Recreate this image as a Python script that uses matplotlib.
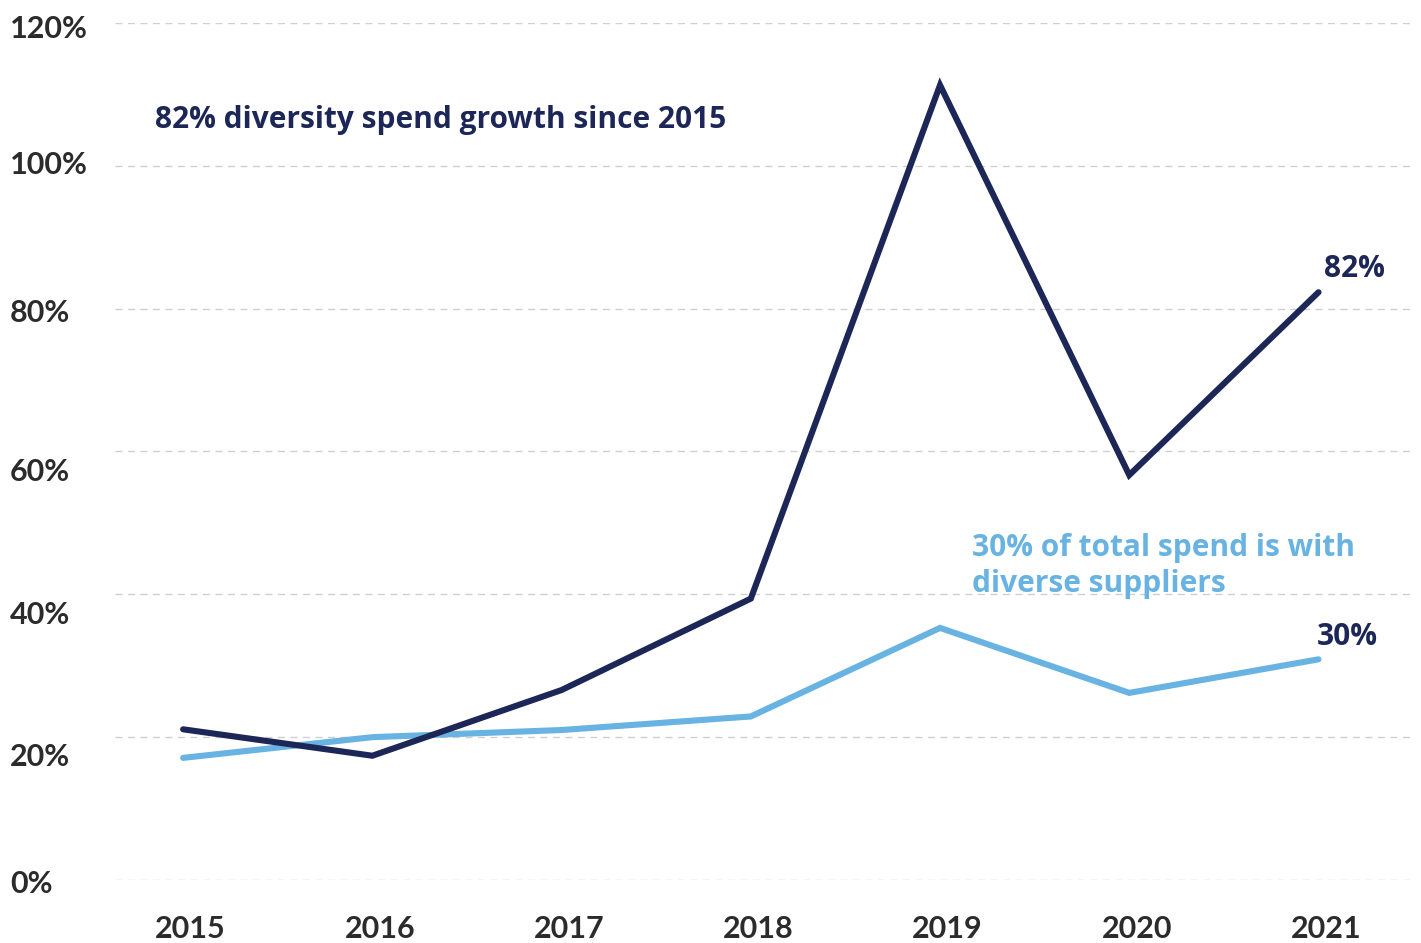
import matplotlib
matplotlib.use("Agg")
import matplotlib.pyplot as plt
import matplotlib.transforms as mtransforms
from matplotlib.ticker import FixedLocator

years = [2015, 2016, 2017, 2018, 2019, 2020, 2021]
diversity_growth = [21.1, 17.4, 26.6, 39.4, 111.3, 56.7, 82.3]
diverse_share = [17.1, 20.0, 21.0, 22.9, 35.3, 26.2, 30.9]
y_ticks = [0, 20, 40, 60, 80, 100, 120]
y_tick_labels = ["0%", "20%", "40%", "60%", "80%", "100%", "120%"]
x_tick_labels = ["2015", "2016", "2017", "2018", "2019", "2020", "2021"]

# vertical nudge (px, downward) of each y tick label relative to its gridline
label_nudge_px = [4, 20, 21, 21, 4, -1, 6]

NAVY = "#1c2757"
LIGHT = "#68b3e1"
TEXT = "#2b2b2b"
TICK_FONT = ["Lato", "DejaVu Sans"]
ANN_FONT = ["Open Sans", "DejaVu Sans"]

plt.rcParams["font.family"] = TICK_FONT

W, H = 1421, 943
fig = plt.figure(figsize=(W / 100, H / 100), dpi=100)
ax = fig.add_axes([115 / W, (H - 880) / H, (1415 - 115) / W, (880 - 23) / H])

x = list(range(len(years)))
ax.plot(x, diverse_share, color=LIGHT, lw=4.4, solid_capstyle="round", solid_joinstyle="miter", zorder=3)
ax.plot(x, diversity_growth, color=NAVY, lw=4.4, solid_capstyle="round", solid_joinstyle="miter", zorder=4)

ax.set_xlim(-0.36, 6.51)
ax.set_ylim(0, 120)

for s in ax.spines.values():
    s.set_visible(False)

ax.yaxis.set_major_locator(FixedLocator(y_ticks))
ax.set_yticklabels([])
ax.set_xticks(x)
ax.set_xticklabels([])
ax.tick_params(length=0)
ax.grid(axis="y", color="#cfcfcf", lw=1.0, ls=(0, (5, 4)))
ax.set_axisbelow(True)

ytr = mtransforms.blended_transform_factory(fig.transFigure, ax.transData)
for v, lab, nudge in zip(y_ticks, y_tick_labels, label_nudge_px):
    tr = ytr + mtransforms.ScaledTranslation(0, -nudge / 100, fig.dpi_scale_trans)
    fig.text(10 / W, v, lab, transform=tr,
             ha="left", va="center", fontsize=22, fontweight="bold", color=TEXT)

for xi, lab in zip(x, x_tick_labels):
    ax.text(xi + 0.04, -6.8, lab, ha="center", va="center", fontsize=22, fontweight="bold", color=TEXT)

ax.text(-0.15, 106.4, "82% diversity spend growth since 2015", ha="left", va="center",
        fontsize=21.5, fontweight="bold", color=NAVY, family=ANN_FONT)
ax.text(4.17, 44.0, "30% of total spend is with\ndiverse suppliers", ha="left", va="center",
        fontsize=21.5, fontweight="bold", color=LIGHT, linespacing=1.24, family=ANN_FONT)

ax.text(6.03, 85.6, f"{diversity_growth[-1]:.0f}%", ha="left", va="center",
        fontsize=21.5, fontweight="bold", color=NAVY, family=ANN_FONT)
ax.text(5.99, 34.0, "30%", ha="left", va="center",
        fontsize=21.5, fontweight="bold", color=NAVY, family=ANN_FONT)

fig.savefig("out.png", dpi=100)
